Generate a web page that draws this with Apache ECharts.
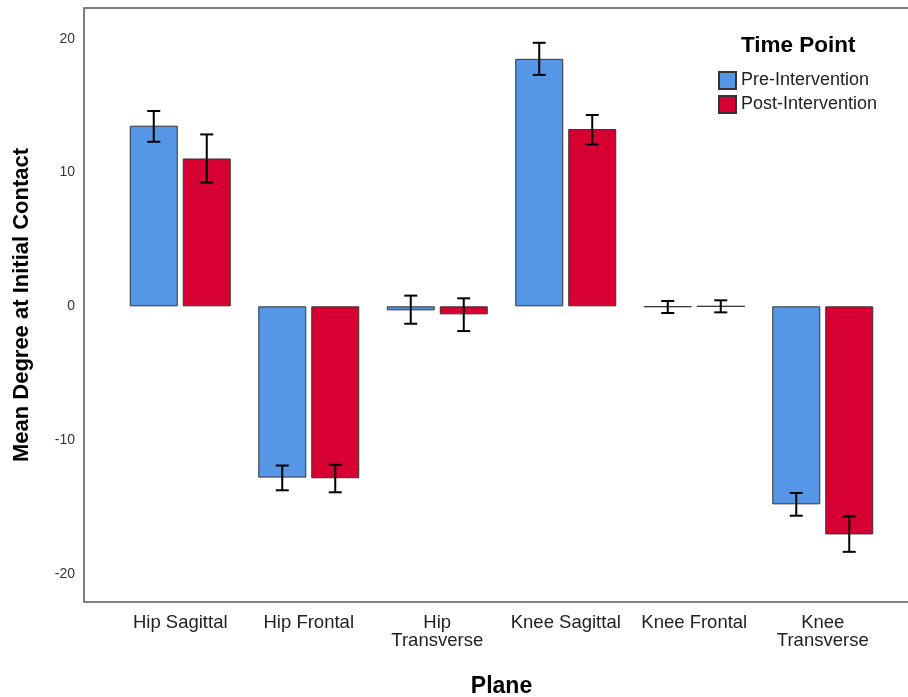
<!DOCTYPE html>
<html>
<head>
<meta charset="utf-8">
<script src="https://cdn.jsdelivr.net/npm/echarts@6/dist/echarts.min.js"></script>
<style>
html,body{margin:0;padding:0;background:#fff;}
#main{width:908px;height:697px;}
</style>
</head>
<body>
<div id="main"></div>
<script>
var categories = ['Hip Sagittal', 'Hip Frontal', 'Hip\nTransverse', 'Knee Sagittal', 'Knee Frontal', 'Knee\nTransverse'];
var seriesNames = ['Pre-Intervention', 'Post-Intervention'];
var preMean = [13.5, -12.8, -0.3, 18.5, -0.05, -14.8];
var preLow  = [12.3, -13.75, -1.3, 17.3, -0.5, -15.65];
var preHigh = [14.6, -11.9, 0.8, 19.7, 0.4, -13.95];
var postMean = [11.05, -12.85, -0.6, 13.25, 0.0, -17.05];
var postLow  = [9.25, -13.9, -1.85, 12.1, -0.45, -18.35];
var postHigh = [12.85, -11.85, 0.6, 14.3, 0.45, -15.7];
var yTicks = [-20, -10, 0, 10, 20];

var Y_MIN = -22.1, Y_MAX = 22.3;
var BAR_W = 48, BAR_GAP_PX = 5;
var FONT = '"Liberation Sans", Arial, sans-serif';

function errData(low, high, idx) {
  return low.map(function (l, i) { return [i, l, high[i], idx]; });
}

function renderErr(params, api) {
  var cat = api.value(0);
  var lo = api.coord([cat, api.value(1)]);
  var hi = api.coord([cat, api.value(2)]);
  var idx = api.value(3);
  var off = (idx === 0 ? -1 : 1) * (BAR_W + BAR_GAP_PX) / 2;
  var x = lo[0] + off;
  var cap = 6.5;
  var st = { stroke: '#000', lineWidth: 2 };
  return {
    type: 'group',
    children: [
      { type: 'line', shape: { x1: x, y1: lo[1], x2: x, y2: hi[1] }, style: st },
      { type: 'line', shape: { x1: x - cap, y1: lo[1], x2: x + cap, y2: lo[1] }, style: st },
      { type: 'line', shape: { x1: x - cap, y1: hi[1], x2: x + cap, y2: hi[1] }, style: st }
    ]
  };
}

var chart = echarts.init(document.getElementById('main'));
chart.setOption({
  animation: false,
  backgroundColor: '#fff',
  title: {
    text: 'Time Point', left: 736, top: 29,
    textStyle: { fontFamily: FONT, fontSize: 22.5, fontWeight: 'bold', color: '#000' }
  },
  legend: {
    data: seriesNames, orient: 'vertical', left: 713, top: 66,
    itemWidth: 17, itemHeight: 17, itemGap: 5, icon: 'rect',
    textStyle: { fontFamily: FONT, fontSize: 18, color: '#222' }
  },
  grid: [
    { left: 84, width: 840, top: 8, bottom: 95, show: true, borderColor: '#555', borderWidth: 1.5, backgroundColor: 'transparent', containLabel: false, outerBoundsMode: 'none' },
    { left: 116, right: 21, top: 8, bottom: 95, containLabel: false, outerBoundsMode: 'none' }
  ],
  xAxis: [
    { gridIndex: 0, type: 'value', min: 0, max: 1, show: false },
    {
      gridIndex: 1, type: 'category', data: categories,
      axisLine: { show: false }, axisTick: { show: false },
      axisLabel: { fontFamily: FONT, fontSize: 18.5, color: '#222', margin: 12, lineHeight: 18, interval: 0 },
      name: 'Plane', nameLocation: 'middle', nameGap: 73,
      nameTextStyle: { fontFamily: FONT, fontSize: 23, fontWeight: 'bold', color: '#000' }
    }
  ],
  yAxis: [
    {
      gridIndex: 0, type: 'value', min: Y_MIN, max: Y_MAX,
      axisLine: { show: false }, axisTick: { show: false }, splitLine: { show: false },
      axisLabel: {
        fontFamily: FONT, fontSize: 14, color: '#333', margin: 9,
        showMinLabel: false, showMaxLabel: false,
        formatter: function (v) { return yTicks.indexOf(v) >= 0 ? String(v) : ''; }
      },
      name: 'Mean Degree at Initial Contact', nameLocation: 'middle', nameGap: 51,
      nameTextStyle: { fontFamily: FONT, fontSize: 22, fontWeight: 'bold', color: '#000' }
    },
    { gridIndex: 1, type: 'value', min: Y_MIN, max: Y_MAX, show: false, splitLine: { show: false } }
  ],
  series: [
    {
      name: seriesNames[0], type: 'bar', xAxisIndex: 1, yAxisIndex: 1,
      data: preMean, barWidth: BAR_W, barGap: (BAR_GAP_PX / BAR_W * 100) + '%',
      itemStyle: { color: '#5596E6', borderColor: '#333', borderWidth: 1 }
    },
    {
      name: seriesNames[1], type: 'bar', xAxisIndex: 1, yAxisIndex: 1,
      data: postMean, barWidth: BAR_W,
      itemStyle: { color: '#D60032', borderColor: '#333', borderWidth: 1 }
    },
    {
      type: 'custom', xAxisIndex: 1, yAxisIndex: 1, renderItem: renderErr,
      data: errData(preLow, preHigh, 0).concat(errData(postLow, postHigh, 1)), z: 5, silent: true
    }
  ]
});
</script>
</body>
</html>
